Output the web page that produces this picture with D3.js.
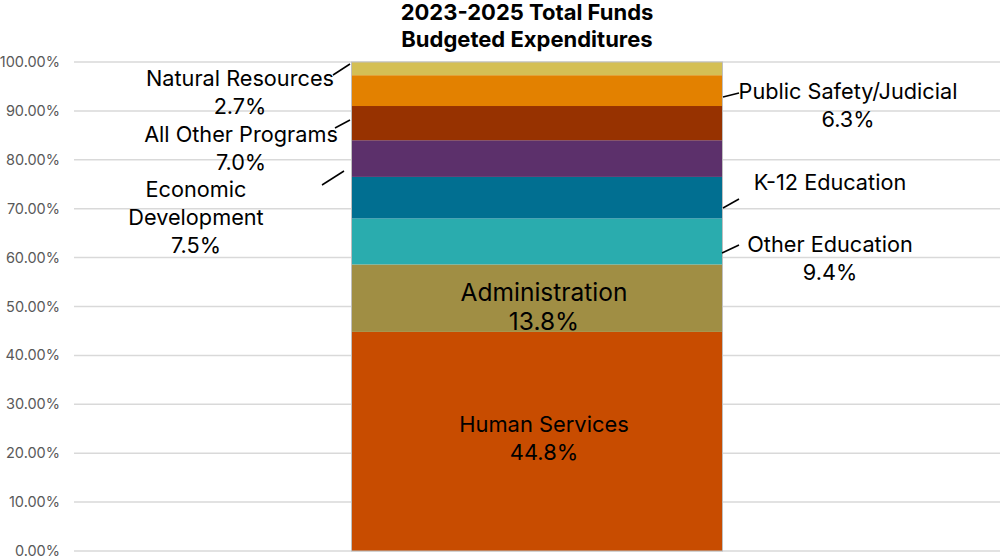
<!DOCTYPE html>
<html><head><meta charset="utf-8">
<script src="https://cdn.jsdelivr.net/npm/d3@7"></script>
<style>body{margin:0;background:#fff}svg{display:block}text{font-family:Inter,"Liberation Sans",sans-serif}</style>
</head><body><svg id="c" width="1000" height="559"></svg>
<script>
const categories = ["Human Services","Administration","Other Education","K-12 Education","Economic Development","All Other Programs","Public Safety/Judicial","Natural Resources"];
const values = [0.448,0.138,0.094,0.085,0.075,0.070,0.063,0.027];
const valueLabels = ["44.8%","13.8%","9.4%","","7.5%","7.0%","6.3%","2.7%"];
const colors = ["#C84C00","#A08E44","#2AACAE","#016F91","#5C306B","#973200","#E38100","#D4BF55"];
const yTicks = [0,0.1,0.2,0.3,0.4,0.5,0.6,0.7,0.8,0.9,1.0];
const barName = ["2023-2025"];
const titleLines = ["2023-2025 Total Funds","Budgeted Expenditures"];

const svg = d3.select("#c");
const y = d3.scaleLinear().domain([0,1]).range([551,62]);
const x = d3.scaleBand().domain(barName).range([74,1000]).paddingInner(0).paddingOuter(0.748);
const bx = x(barName[0]), bw = x.bandwidth();

svg.append("g").selectAll("line").data(yTicks).join("line")
  .attr("x1",74).attr("x2",1000).attr("y1",d=>y(d)).attr("y2",d=>y(d))
  .attr("stroke","#d9d9d9").attr("stroke-width",1.5);
const fmt = d3.format(".2%");
svg.append("g").selectAll("text").data(yTicks).join("text")
  .attr("x",60).attr("y",d=>y(d)+5).attr("text-anchor","end")
  .attr("font-size",14.5).attr("fill","#595959").text(d=>fmt(d));

let cum = 0;
const segs = values.map((v,i)=>{const s={i,name:categories[i],v,y0:cum,y1:cum+v};cum+=v;return s;});
svg.append("g").selectAll("rect").data(segs).join("rect")
  .attr("x",bx).attr("width",bw)
  .attr("y",d=>y(d.y1)).attr("height",d=>y(d.y0)-y(d.y1))
  .attr("fill",d=>colors[d.i]);
svg.append("rect").attr("x",bx).attr("y",y(1)).attr("width",bw).attr("height",y(0)-y(1))
  .attr("fill","none").attr("stroke","#bfbfbf").attr("stroke-width",1);

const layout = {
  "Human Services": {x:544, y:432, lh:28, fs:21.9, lines:["Human Services"], leader:null},
  "Administration": {x:544, y:301, lh:29, fs:24.5, lines:["Administration"], leader:null},
  "Other Education": {x:830, y:252, lh:28, fs:21.7, lines:["Other Education"], leader:[722,253,739,245]},
  "K-12 Education": {x:830, y:190, lh:28, fs:21.7, lines:["K-12 Education"], leader:[723,208,739,199]},
  "Economic Development": {x:196, y:197, lh:28, fs:21.7, lines:["Economic","Development"], leader:[322,185,344,171]},
  "All Other Programs": {x:241, y:142, lh:28, fs:21.7, lines:["All Other Programs"], leader:[335,128,350,120]},
  "Public Safety/Judicial": {x:848, y:99, lh:28, fs:21.7, lines:["Public Safety/Judicial"], leader:[723,97,739,93]},
  "Natural Resources": {x:240, y:86, lh:28, fs:21.7, lines:["Natural Resources"], leader:[333,75,350,64]}
};
const lg = svg.append("g");
segs.forEach(s=>{
  const L = layout[s.name];
  const lines = L.lines.slice(); if(valueLabels[s.i]) lines.push(valueLabels[s.i]);
  const t = lg.append("text").attr("text-anchor","middle").attr("font-size",L.fs).attr("fill","#000");
  lines.forEach((ln,k)=>t.append("tspan").attr("x",L.x).attr("y",L.y+k*L.lh).text(ln));
  if(L.leader){
    lg.append("line").attr("x1",L.leader[0]).attr("y1",L.leader[1]).attr("x2",L.leader[2]).attr("y2",L.leader[3])
      .attr("stroke","#000").attr("stroke-width",1.5);
  }
});

svg.append("g").selectAll("text").data(titleLines).join("text")
  .attr("x",527).attr("y",(d,i)=>20+i*27).attr("text-anchor","middle")
  .attr("font-size",22).attr("font-weight","bold").attr("fill","#000").text(d=>d);
</script></body></html>
